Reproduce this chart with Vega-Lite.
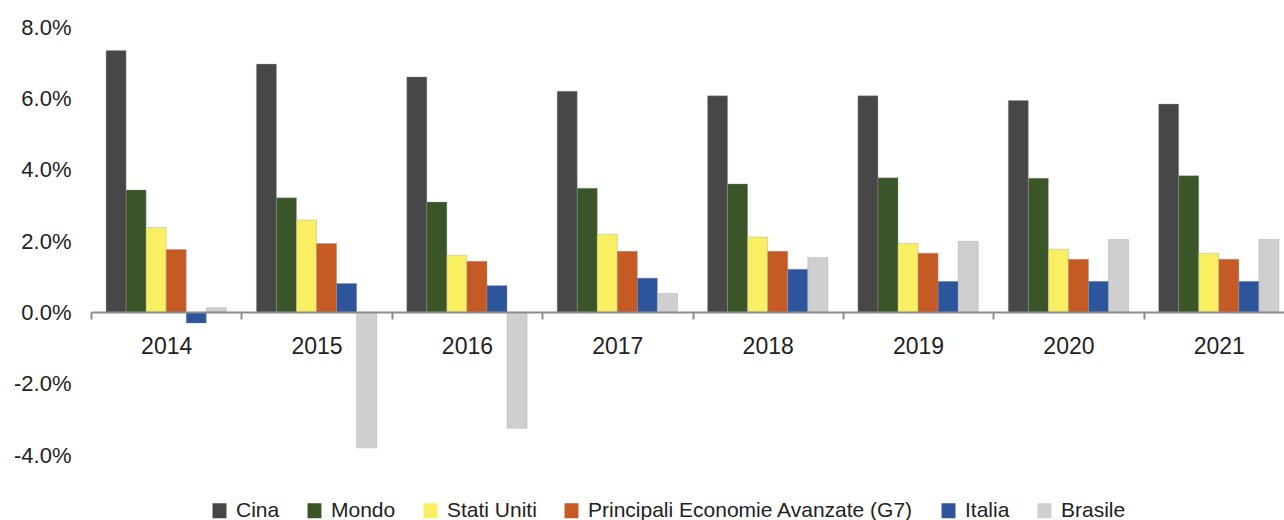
{
  "$schema": "https://vega.github.io/schema/vega-lite/v6.json",
  "width": 1193,
  "height": 428,
  "autosize": {"type": "none"},
  "padding": {"left": 91, "top": 27, "right": 0, "bottom": 65},
  "background": "white",
  "data": {
    "values": [
      {"anno": "2014", "serie": "Cina", "valore": 7.34},
      {"anno": "2014", "serie": "Mondo", "valore": 3.43},
      {"anno": "2014", "serie": "Stati Uniti", "valore": 2.38},
      {"anno": "2014", "serie": "Principali Economie Avanzate (G7)", "valore": 1.76},
      {"anno": "2014", "serie": "Italia", "valore": -0.30},
      {"anno": "2014", "serie": "Brasile", "valore": 0.13},
      {"anno": "2015", "serie": "Cina", "valore": 6.96},
      {"anno": "2015", "serie": "Mondo", "valore": 3.21},
      {"anno": "2015", "serie": "Stati Uniti", "valore": 2.59},
      {"anno": "2015", "serie": "Principali Economie Avanzate (G7)", "valore": 1.93},
      {"anno": "2015", "serie": "Italia", "valore": 0.81},
      {"anno": "2015", "serie": "Brasile", "valore": -3.80},
      {"anno": "2016", "serie": "Cina", "valore": 6.60},
      {"anno": "2016", "serie": "Mondo", "valore": 3.09},
      {"anno": "2016", "serie": "Stati Uniti", "valore": 1.60},
      {"anno": "2016", "serie": "Principali Economie Avanzate (G7)", "valore": 1.43},
      {"anno": "2016", "serie": "Italia", "valore": 0.75},
      {"anno": "2016", "serie": "Brasile", "valore": -3.25},
      {"anno": "2017", "serie": "Cina", "valore": 6.20},
      {"anno": "2017", "serie": "Mondo", "valore": 3.48},
      {"anno": "2017", "serie": "Stati Uniti", "valore": 2.19},
      {"anno": "2017", "serie": "Principali Economie Avanzate (G7)", "valore": 1.71},
      {"anno": "2017", "serie": "Italia", "valore": 0.96},
      {"anno": "2017", "serie": "Brasile", "valore": 0.53},
      {"anno": "2018", "serie": "Cina", "valore": 6.07},
      {"anno": "2018", "serie": "Mondo", "valore": 3.60},
      {"anno": "2018", "serie": "Stati Uniti", "valore": 2.11},
      {"anno": "2018", "serie": "Principali Economie Avanzate (G7)", "valore": 1.71},
      {"anno": "2018", "serie": "Italia", "valore": 1.21},
      {"anno": "2018", "serie": "Brasile", "valore": 1.54},
      {"anno": "2019", "serie": "Cina", "valore": 6.07},
      {"anno": "2019", "serie": "Mondo", "valore": 3.77},
      {"anno": "2019", "serie": "Stati Uniti", "valore": 1.93},
      {"anno": "2019", "serie": "Principali Economie Avanzate (G7)", "valore": 1.66},
      {"anno": "2019", "serie": "Italia", "valore": 0.87},
      {"anno": "2019", "serie": "Brasile", "valore": 1.99},
      {"anno": "2020", "serie": "Cina", "valore": 5.94},
      {"anno": "2020", "serie": "Mondo", "valore": 3.76},
      {"anno": "2020", "serie": "Stati Uniti", "valore": 1.77},
      {"anno": "2020", "serie": "Principali Economie Avanzate (G7)", "valore": 1.49},
      {"anno": "2020", "serie": "Italia", "valore": 0.87},
      {"anno": "2020", "serie": "Brasile", "valore": 2.04},
      {"anno": "2021", "serie": "Cina", "valore": 5.84},
      {"anno": "2021", "serie": "Mondo", "valore": 3.83},
      {"anno": "2021", "serie": "Stati Uniti", "valore": 1.66},
      {"anno": "2021", "serie": "Principali Economie Avanzate (G7)", "valore": 1.49},
      {"anno": "2021", "serie": "Italia", "valore": 0.87},
      {"anno": "2021", "serie": "Brasile", "valore": 2.04}
    ]
  },
  "mark": {"type": "bar", "stroke": "#9a9a9a", "strokeWidth": 0.6, "strokeOpacity": 0.6},
  "encoding": {
    "x": {
      "field": "anno",
      "type": "nominal",
      "scale": {"paddingInner": 0, "paddingOuter": 0, "range": [0, 1203]},
      "axis": {
        "title": null,
        "orient": "bottom",
        "offset": -143,
        "domainColor": "#8c8c8c",
        "domainWidth": 2,
        "tickBand": "extent",
        "tickColor": "#8c8c8c",
        "tickWidth": 2,
        "tickSize": 7,
        "labelAngle": 0,
        "labelFont": "Liberation Sans",
        "labelFontSize": 23,
        "labelColor": "#222222",
        "labelPadding": 16,
        "zindex": 1
      }
    },
    "xOffset": {
      "field": "serie",
      "type": "nominal",
      "sort": ["Cina", "Mondo", "Stati Uniti", "Principali Economie Avanzate (G7)", "Italia", "Brasile"],
      "scale": {"paddingInner": 0, "paddingOuter": 0.75}
    },
    "y": {
      "field": "valore",
      "type": "quantitative",
      "scale": {"domain": [-4, 8], "nice": false, "zero": false},
      "axis": {
        "title": null,
        "values": [-4, -2, 0, 2, 4, 6, 8],
        "domain": false,
        "ticks": false,
        "grid": false,
        "labelExpr": "replace(format(datum.value, '.1f'), '\u2212', '-') + '%'",
        "labelFont": "Liberation Sans",
        "labelFontSize": 22,
        "labelColor": "#222222",
        "labelPadding": 20
      }
    },
    "color": {
      "field": "serie",
      "type": "nominal",
      "sort": ["Cina", "Mondo", "Stati Uniti", "Principali Economie Avanzate (G7)", "Italia", "Brasile"],
      "scale": {
        "domain": ["Cina", "Mondo", "Stati Uniti", "Principali Economie Avanzate (G7)", "Italia", "Brasile"],
        "range": ["#474747", "#3a5628", "#f8ef62", "#c55a25", "#2d559b", "#d0cfd0"]
      },
      "legend": {
        "title": null,
        "orient": "none",
        "direction": "horizontal",
        "legendX": 118,
        "legendY": 473,
        "symbolType": "M-0.93,-1H0.93V1H-0.93Z",
        "symbolSize": 225,
        "symbolStrokeWidth": 0,
        "labelFont": "Liberation Sans",
        "labelFontSize": 21,
        "labelColor": "#222222",
        "labelOffset": 6,
        "columnPadding": 24,
        "labelLimit": 500
      }
    }
  },
  "config": {"view": {"stroke": null}}
}
